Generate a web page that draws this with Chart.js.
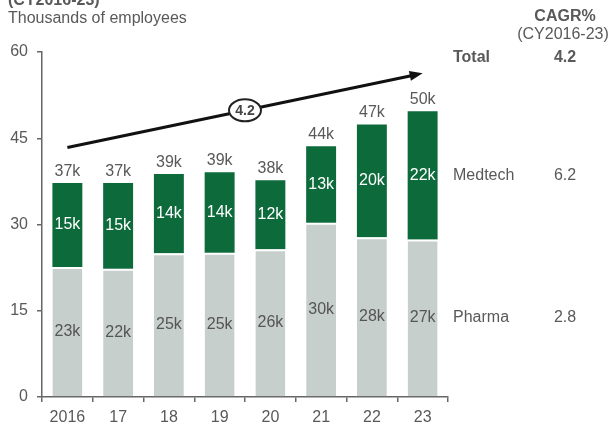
<!DOCTYPE html>
<html>
<head>
<meta charset="utf-8">
<script src="https://cdn.jsdelivr.net/npm/chart.js@4.4.0/dist/chart.umd.min.js"></script>
<style>
html,body{margin:0;padding:0;background:#fff;}
#wrap{width:609px;height:428px;}
</style>
</head>
<body>
<div id="wrap"><canvas id="empChart" width="609" height="428"></canvas></div>
<script>
// employees, thousands
var years = ['2016', '17', '18', '19', '20', '21', '22', '23'];
var pharma = [22.6, 22.3, 25.0, 25.1, 25.7, 30.3, 27.8, 27.4];
var medtech = [14.6, 14.9, 13.8, 14.0, 12.0, 13.3, 19.6, 22.3];
var yTicks = [0, 15, 30, 45, 60];
// CAGR% CY2016-23
var cagrNames = ['Total', 'Medtech', 'Pharma'];
var cagrValues = ['4.2', '6.2', '2.8'];
// trend arrow ends: [category index, value]
var trendFrom = [0, 43.4];
var trendTo = [7, 56.3];

var FONT = '"Liberation Sans", Arial, sans-serif';
var GREY = '#595959';
var GREEN = '#0d6a3a';
var LIGHT = '#c6cfcb';

function font(size, bold){
	return (bold ? 'bold ' : '') + size + 'px ' + FONT;
}

var labelPlugin = {
	id: 'labelPlugin',
	afterDatasetsDraw: function(chart){
		var ctx = chart.ctx;
		var metaP = chart.getDatasetMeta(0);
		var metaM = chart.getDatasetMeta(1);
		ctx.save();
		ctx.textAlign = 'center';
		ctx.textBaseline = 'middle';
		ctx.font = font(16);
		for(var i = 0; i < years.length; i++){
			var p = metaP.data[i];
			var m = metaM.data[i];
			ctx.fillStyle = '#555';
			ctx.fillText(Math.round(pharma[i]) + 'k', p.x, (p.y + p.base) / 2);
			ctx.fillStyle = '#fff';
			ctx.fillText(Math.round(medtech[i]) + 'k', m.x, (m.y + m.base) / 2);
			ctx.fillStyle = GREY;
			ctx.textBaseline = 'alphabetic';
			ctx.fillText(Math.round(pharma[i] + medtech[i]) + 'k', m.x, m.y - 7);
			ctx.textBaseline = 'middle';
		}

		// trend arrow with total CAGR bubble
		var xs = chart.scales.x, ys = chart.scales.y;
		var x1 = xs.getPixelForValue(trendFrom[0]), y1 = ys.getPixelForValue(trendFrom[1]);
		var x2 = xs.getPixelForValue(trendTo[0]), y2 = ys.getPixelForValue(trendTo[1]);
		var ang = Math.atan2(y2 - y1, x2 - x1);
		ctx.strokeStyle = '#111';
		ctx.fillStyle = '#111';
		ctx.lineWidth = 3;
		ctx.beginPath();
		ctx.moveTo(x1, y1);
		ctx.lineTo(x2 - 8 * Math.cos(ang), y2 - 8 * Math.sin(ang));
		ctx.stroke();
		ctx.beginPath();
		ctx.moveTo(x2, y2);
		ctx.lineTo(x2 - 13 * Math.cos(ang) + 5 * Math.sin(ang), y2 - 13 * Math.sin(ang) - 5 * Math.cos(ang));
		ctx.lineTo(x2 - 13 * Math.cos(ang) - 5 * Math.sin(ang), y2 - 13 * Math.sin(ang) + 5 * Math.cos(ang));
		ctx.closePath();
		ctx.fill();

		var cx = (x1 + x2) / 2, cy = (y1 + y2) / 2;
		ctx.beginPath();
		ctx.ellipse(cx, cy, 16, 11, 0, 0, Math.PI * 2);
		ctx.fillStyle = '#fff';
		ctx.fill();
		ctx.lineWidth = 2;
		ctx.strokeStyle = '#222';
		ctx.stroke();
		ctx.fillStyle = '#444';
		ctx.font = font(14, true);
		ctx.fillText(cagrValues[0], cx, cy + 1);

		// header and CAGR column
		ctx.textAlign = 'left';
		ctx.textBaseline = 'alphabetic';
		ctx.fillStyle = GREY;
		ctx.font = font(16, true);
		ctx.fillText('(CY2016-23)', 8, 5);
		ctx.font = font(16);
		ctx.fillText('Thousands of employees', 8, 23);

		ctx.textAlign = 'center';
		ctx.font = font(16, true);
		ctx.fillText('CAGR%', 565, 21);
		ctx.font = font(16);
		ctx.fillText('(CY2016-23)', 563, 39);

		var last = years.length - 1;
		var rowY = [58, (metaM.data[last].y + metaM.data[last].base) / 2, (metaP.data[last].y + metaP.data[last].base) / 2];
		ctx.textBaseline = 'middle';
		for(var k = 0; k < cagrNames.length; k++){
			ctx.font = font(16, k == 0);
			ctx.textAlign = 'left';
			ctx.fillText(cagrNames[k], 453, rowY[k]);
			ctx.textAlign = 'center';
			ctx.fillText(cagrValues[k], 565, rowY[k]);
		}
		ctx.restore();
	}
};

var ctx1 = document.getElementById('empChart');
var empChart = new Chart(ctx1, {
	type: 'bar',
	data: {
		labels: years,
		datasets: [{
			label: 'Pharma',
			data: pharma,
			backgroundColor: LIGHT,
			borderColor: '#fff',
			borderWidth: {top: 2, left: 0, right: 0, bottom: 0},
			borderSkipped: false,
			barPercentage: 0.59,
			categoryPercentage: 1
		}, {
			label: 'Medtech',
			data: medtech,
			backgroundColor: GREEN,
			borderWidth: 0,
			barPercentage: 0.59,
			categoryPercentage: 1
		}]
	},
	options: {
		responsive: false,
		animation: false,
		devicePixelRatio: 1,
		layout: {padding: {left: 0, right: 161, top: 52, bottom: 0}},
		plugins: {
			legend: {display: false},
			tooltip: {enabled: false}
		},
		scales: {
			x: {
				stacked: true,
				afterFit: function(scale){ scale.height = 31; },
				grid: {drawOnChartArea: false, offset: true, tickLength: 5, color: '#666', lineWidth: 1.5},
				border: {display: true, color: '#666', width: 1.5},
				ticks: {color: GREY, font: {family: FONT, size: 16}, padding: 6}
			},
			y: {
				stacked: true,
				min: 0,
				max: 60,
				afterFit: function(scale){ scale.width = 42; },
				afterBuildTicks: function(scale){
					scale.ticks = yTicks.map(function(v){ return {value: v}; });
				},
				grid: {drawOnChartArea: false, tickLength: 5, color: '#666', lineWidth: 1.5},
				border: {display: true, color: '#666', width: 1.5},
				ticks: {color: GREY, font: {family: FONT, size: 16}, padding: 9}
			}
		}
	},
	plugins: [labelPlugin]
});
</script>
</body>
</html>
